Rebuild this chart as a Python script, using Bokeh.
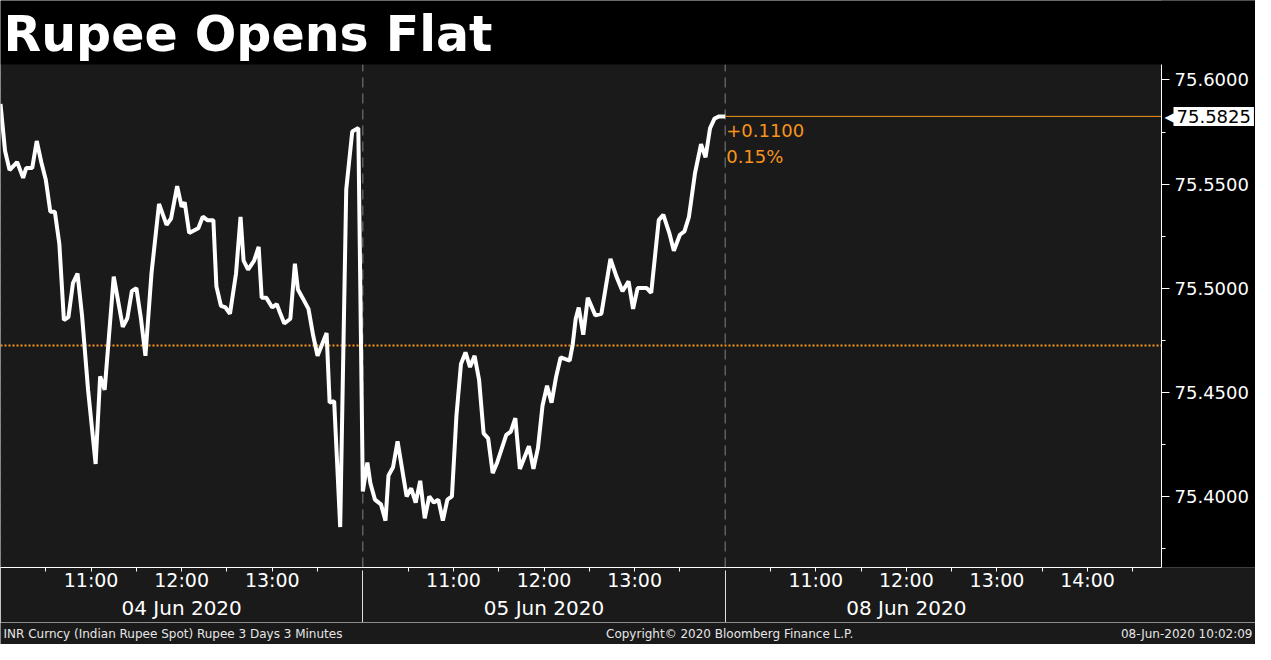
from bokeh.plotting import figure
from bokeh.layouts import column
from bokeh.models import (Range1d, LinearAxis, FixedTicker, Label, PrintfTickFormatter, BoxAnnotation)
from bokeh.core.properties import value
from bokeh.embed import file_html
from bokeh.resources import INLINE

# ---------------- data ----------------
TITLE = "Rupee Opens Flat"
DAY_LABELS = ["04 Jun 2020", "05 Jun 2020", "08 Jun 2020"]
SESSION_OPEN_HOUR = 10
SESSION_MINUTES = 240
HOUR_LABELS = [["11:00", "12:00", "13:00"],
               ["11:00", "12:00", "13:00"],
               ["11:00", "12:00", "13:00", "14:00"]]
AXIS_END = (2, "14:49")

# minutes after 10:00 for each day, and INR spot values
DAY1_MIN = [0, 3, 6, 11, 15, 17, 21, 24, 27, 30, 33, 36, 39, 42, 45, 48, 51, 54, 58, 63,
            66, 69, 75, 81, 84, 87, 90, 93, 96, 100, 105, 110, 113, 117, 120, 122, 125, 131, 134, 137,
            141, 143, 146, 149, 152, 156, 159, 161, 164, 168, 171, 173, 176, 180, 183, 185, 188, 192, 195, 197,
            200, 204, 207, 210, 216, 218, 221, 225, 229, 233, 237]
DAY1_VAL = [75.5885, 75.5660, 75.5567, 75.5606, 75.5530, 75.5577, 75.5577, 75.5707, 75.5606, 75.5521,
            75.5367, 75.5367, 75.5211, 75.4847, 75.4862, 75.5025, 75.5071, 75.4870, 75.4513, 75.4157,
            75.4577, 75.4513, 75.5056, 75.4815, 75.4856, 75.4986, 75.5001, 75.4856, 75.4676, 75.5071,
            75.5405, 75.5304, 75.5335, 75.5490, 75.5391, 75.5413, 75.5265, 75.5288, 75.5344, 75.5327,
            75.5327, 75.5009, 75.4916, 75.4908, 75.4878, 75.5071, 75.5343, 75.5133, 75.5090, 75.5133,
            75.5199, 75.4955, 75.4955, 75.4908, 75.4924, 75.4885, 75.4831, 75.4854, 75.5118, 75.4994,
            75.4955, 75.4901, 75.4777, 75.4676, 75.4785, 75.4451, 75.4459, 75.3854, 75.5474, 75.5753,
            75.5769]
DAY2_MIN = [0, 3, 5, 8, 12, 15, 17, 20, 23, 26, 29, 32, 35, 38, 41, 44, 47, 50, 53, 56,
            59, 62, 65, 68, 71, 74, 77, 80, 83, 86, 89, 95, 98, 101, 104, 110, 113, 116, 119, 122,
            125, 128, 131, 137, 139, 141, 143, 146, 149, 154, 158, 164, 168, 172, 176, 179, 182, 188, 191, 196,
            199, 203, 206, 210, 213, 216, 220, 224, 227, 230, 233, 236]
DAY2_VAL = [75.4025, 75.4164, 75.4064, 75.3986, 75.3963, 75.3885, 75.4102, 75.4141, 75.4265, 75.4133,
            75.4001, 75.4040, 75.3971, 75.4076, 75.3896, 75.4001, 75.3971, 75.3986, 75.3885, 75.3986,
            75.4001, 75.4389, 75.4637, 75.4692, 75.4622, 75.4676, 75.4560, 75.4304, 75.4280, 75.4113,
            75.4164, 75.4296, 75.4312, 75.4377, 75.4133, 75.4242, 75.4133, 75.4234, 75.4436, 75.4532,
            75.4451, 75.4575, 75.4668, 75.4653, 75.4730, 75.4854, 75.4908, 75.4777, 75.4955, 75.4870,
            75.4878, 75.5141, 75.5056, 75.4986, 75.5033, 75.4901, 75.5001, 75.5001, 75.4978, 75.5327,
            75.5353, 75.5265, 75.5180, 75.5257, 75.5273, 75.5343, 75.5552, 75.5692, 75.5629, 75.5769,
            75.5815, 75.5825]
DAY3_MIN = [0]
DAY3_VAL = [75.5825]

PREV_CLOSE = 75.4725
Y_TICKS = [75.40, 75.45, 75.50, 75.55, 75.60]
Y_MINOR = [75.375, 75.425, 75.475, 75.525, 75.575]
Y_LIMITS = (75.366, 75.6074)

FOOTER_LEFT = "INR Curncy (Indian Rupee Spot) Rupee 3 Days 3 Minutes"
FOOTER_MID = "Copyright\u00a9 2020 Bloomberg Finance L.P."
FOOTER_RIGHT = "08-Jun-2020 10:02:09"

# ---------------- helpers ----------------
def clock_min(s):
    h, m = s.split(":")
    return (int(h) - SESSION_OPEN_HOUR) * 60 + int(m)

def xpos(day, minute):
    return day * SESSION_MINUTES + minute

xs, ys = [], []
for d, (mins, vals) in enumerate([(DAY1_MIN, DAY1_VAL), (DAY2_MIN, DAY2_VAL), (DAY3_MIN, DAY3_VAL)]):
    xs += [xpos(d, m) for m in mins]
    ys += vals
x_end = xpos(AXIS_END[0], clock_min(AXIS_END[1]))
last_x, last = xs[-1], ys[-1]
chg = last - PREV_CLOSE
pct = chg / PREV_CLOSE * 100

hour_ticks, hour_over, half_ticks = [], {}, []
for d, labs in enumerate(HOUR_LABELS):
    for lab in labs:
        t = xpos(d, clock_min(lab))
        hour_ticks.append(t)
        hour_over[t] = lab
        half_ticks.append(t - 30)
    half_ticks.append(hour_ticks[-1] + 30)
half_ticks = [t for t in half_ticks if t < x_end]
day_centers = [xpos(d, SESSION_MINUTES / 2) for d in range(3)]
day_bounds = [xpos(d, 0) for d in range(1, 3)]

# ---------------- styling / layout ----------------
W = 1255
H_TITLE = 64            # black title band (inside the frame, above the data area)
TITLE_MID = 30          # px above the band's lower edge where the title text is centred
FRAME_H = 567           # title band + data area
H_FOOT = 22
AXIS_AREA = 94          # width of the black price-axis strip, px
FONT = "DejaVu Sans"
BG = "#1a1a1a"
ORANGE = "#f7941d"
WHITE = "#ffffff"

x_total = x_end * W / (W - AXIS_AREA)
y_span = Y_LIMITS[1] - Y_LIMITS[0]
y_per_px = y_span / (FRAME_H - H_TITLE)
y_top = Y_LIMITS[1] + H_TITLE * y_per_px

p = figure(frame_width=W, frame_height=FRAME_H, x_range=Range1d(0, x_total), y_range=Range1d(Y_LIMITS[0], y_top),
           output_backend="svg", toolbar_location=None, x_axis_location="below", y_axis_location="right",
           min_border_left=0, min_border_right=0, min_border_top=0, min_border_bottom=0,
           background_fill_color=BG, border_fill_color=BG, outline_line_color=None)
p.xgrid.visible = False
p.ygrid.visible = False

# black title band and black price-axis strip
p.add_layout(BoxAnnotation(bottom=Y_LIMITS[1], fill_color="black", fill_alpha=1, line_color=None, level="underlay"))
p.add_layout(BoxAnnotation(left=x_end, fill_color="black", fill_alpha=1, line_color=None, level="underlay"))

p.text(x=[0], y=[Y_LIMITS[1] + TITLE_MID * y_per_px], text=[TITLE], x_offset=3, text_font=value(FONT),
       text_font_size="49px", text_font_style="bold", text_color=WHITE,
       text_baseline="middle", text_align="left")

ya = p.yaxis[0]
ya.fixed_location = x_end
ya.bounds = Y_LIMITS
ya.ticker = FixedTicker(ticks=Y_TICKS, minor_ticks=Y_MINOR)
ya.formatter = PrintfTickFormatter(format="%.4f")
ya.axis_line_color = WHITE
ya.major_tick_line_color = WHITE
ya.minor_tick_line_color = WHITE
ya.major_tick_in = 0
ya.major_tick_out = 8
ya.minor_tick_in = 0
ya.minor_tick_out = 4
ya.major_label_standoff = 5
ya.major_label_text_color = WHITE
ya.major_label_text_font = FONT
ya.major_label_text_font_size = "18px"

xa = p.xaxis[0]
xa.bounds = (0, x_end)
xa.ticker = FixedTicker(ticks=hour_ticks, minor_ticks=half_ticks)
xa.major_label_overrides = hour_over
xa.axis_line_color = WHITE
xa.major_tick_line_color = WHITE
xa.minor_tick_line_color = WHITE
xa.major_tick_in = 0
xa.major_tick_out = 4
xa.minor_tick_in = 0
xa.minor_tick_out = 4
xa.major_label_standoff = -3
xa.major_label_text_color = WHITE
xa.major_label_text_font = FONT
xa.major_label_text_font_size = "19px"

da = LinearAxis(ticker=FixedTicker(ticks=day_centers, minor_ticks=[]),
                major_label_overrides={c: lab for c, lab in zip(day_centers, DAY_LABELS)})
da.axis_line_color = None
da.major_tick_line_color = None
da.minor_tick_line_color = None
da.major_tick_in = 0
da.major_tick_out = 0
da.minor_tick_in = 0
da.minor_tick_out = 0
da.major_label_standoff = 2
da.major_label_text_color = WHITE
da.major_label_text_font = FONT
da.major_label_text_font_size = "20px"
p.add_layout(da, "below")

# day separators through the time-axis area (drawn upward from the lowest axis)
sep = LinearAxis(ticker=FixedTicker(ticks=[], minor_ticks=day_bounds))
sep.axis_line_color = None
sep.major_tick_line_color = None
sep.major_tick_in = 0
sep.major_tick_out = 0
sep.minor_tick_line_color = "#e0e0e0"
sep.minor_tick_in = 52
sep.minor_tick_out = 0
sep.major_label_standoff = 0
sep.major_label_text_font_size = "1px"
p.add_layout(sep, "below")

# day dividers in the plot area (dashed)
for b in [0] + day_bounds:
    p.line([b, b], list(Y_LIMITS), line_color="#808080", line_width=1, line_dash="10 6")

# previous close reference (dotted)
p.line([0, x_end], [PREV_CLOSE, PREV_CLOSE], line_color=ORANGE, line_width=2, line_dash="2 2")

# price series
p.line(xs, ys, line_color=WHITE, line_width=4)

# last price line
p.line([last_x, x_end], [last, last], line_color=ORANGE, line_width=1)

p.add_layout(Label(x=last_x, y=last, x_offset=1, y_offset=-8, text=f"{chg:+.4f}", text_font=FONT,
                   text_font_size="18px", text_color=ORANGE, text_baseline="top"))
p.add_layout(Label(x=last_x, y=last, x_offset=1, y_offset=-30, text=f"{pct:.2f}%", text_font=FONT,
                   text_font_size="18px", text_color=ORANGE, text_baseline="top"))

# last price tag on the axis
p.add_layout(Label(x=x_end, y=last, x_offset=3, text="\u25c0", text_font=FONT, text_font_size="19px",
                   text_color=WHITE, text_baseline="middle"))
p.add_layout(Label(x=x_end, y=last, x_offset=12, text=f"{last:.4f}", text_font=FONT, text_font_size="18px",
                   text_color="black", text_baseline="middle", background_fill_color=WHITE, padding=3))

# ---- footer ----
ff = figure(width=W, height=H_FOOT, x_range=Range1d(0, W), y_range=Range1d(0, H_FOOT),
            output_backend="svg", toolbar_location=None, x_axis_location=None, y_axis_location=None,
            min_border=0, background_fill_color=BG, border_fill_color=BG, outline_line_color=None)
ff.xgrid.visible = False
ff.ygrid.visible = False
foot_style = dict(text_font=value(FONT), text_font_size="12px", text_color="#e6e6e6", text_baseline="middle")
ff.text(x=[3], y=[H_FOOT / 2], text=[FOOTER_LEFT], text_align="left", **foot_style)
ff.text(x=[W * 0.581], y=[H_FOOT / 2], text=[FOOTER_MID], text_align="center", **foot_style)
ff.text(x=[W - 3], y=[H_FOOT / 2], text=[FOOTER_RIGHT], text_align="right", **foot_style)

layout = column(p, ff, spacing=0)
open("out.html", "w").write(file_html(layout, INLINE))
